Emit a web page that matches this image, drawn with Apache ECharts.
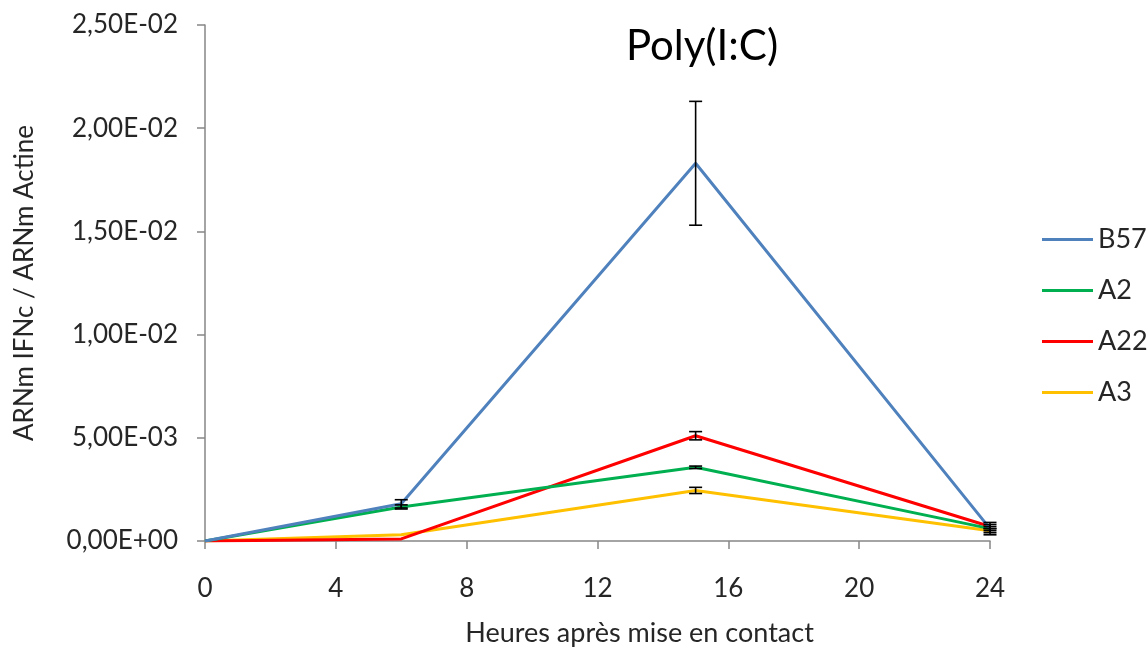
<!DOCTYPE html>
<html>
<head>
<meta charset="utf-8">
<script src="https://cdn.jsdelivr.net/npm/echarts@6/dist/echarts.min.js"></script>
<style>
  html, body { margin: 0; padding: 0; background: #ffffff; }
  #chart { width: 1147px; height: 652px; }
</style>
</head>
<body>
<div id="chart"></div>
<script>
// Hours after contact (x values)
const hours = [0, 6, 15, 24];

// Mean IFN mRNA / actin mRNA ratio per strain
const seriesNames = ['B57', 'A2', 'A22', 'A3'];
const valuesB57 = [0, 0.0018, 0.0183, 0.0006];
const valuesA2  = [0, 0.00165, 0.00357, 0.0006];
const valuesA22 = [0, 0.0001, 0.0051, 0.0007];
const valuesA3  = [0, 0.0003, 0.00245, 0.0005];

// Standard deviations (error bar half-heights)
const errB57 = [0, 0.0002, 0.003, 0.0003];
const errA2  = [0, 0.0001, 0.00006, 0.0001];
const errA22 = [0, 0, 0.0002, 0.0001];
const errA3  = [0, 0, 0.00015, 0.0001];

const colors = ['#4f81bd', '#00b050', '#ff0000', '#ffc000'];

// Axis tick labels
const xTicks = [0, 4, 8, 12, 16, 20, 24];
const yTickLabels = ['0,00E+00', '5,00E-03', '1,00E-02', '1,50E-02', '2,00E-02', '2,50E-02'];

const allValues = [valuesB57, valuesA2, valuesA22, valuesA3];
const allErrors = [errB57, errA2, errA22, errA3];

const FONT = 'Lato';
const TEXT = '#262626';

const lineSeries = seriesNames.map((name, s) => ({
  name: name,
  type: 'line',
  data: hours.map((h, i) => [h, allValues[s][i]]),
  showSymbol: false,
  symbol: 'none',
  lineStyle: { color: colors[s], width: 3 },
  itemStyle: { color: colors[s] },
  z: 3 + (seriesNames.length - s)
}));

// Error bars: vertical whisker with flat caps
const errorData = [];
allValues.forEach((vals, s) => {
  vals.forEach((v, i) => {
    const e = allErrors[s][i];
    if (e > 0) errorData.push([hours[i], v - e, v + e]);
  });
});

const errorSeries = {
  name: 'errors',
  type: 'custom',
  z: 10,
  silent: true,
  data: errorData,
  renderItem: function (params, api) {
    const x = api.value(0);
    const lo = api.coord([x, api.value(1)]);
    const hi = api.coord([x, api.value(2)]);
    const half = 6.5;
    const style = { stroke: '#000000', lineWidth: 1.6 };
    return {
      type: 'group',
      children: [
        { type: 'line', shape: { x1: lo[0], y1: lo[1], x2: hi[0], y2: hi[1] }, style: style },
        { type: 'line', shape: { x1: lo[0] - half, y1: lo[1], x2: lo[0] + half, y2: lo[1] }, style: style },
        { type: 'line', shape: { x1: hi[0] - half, y1: hi[1], x2: hi[0] + half, y2: hi[1] }, style: style }
      ]
    };
  }
};

const chart = echarts.init(document.getElementById('chart'), null, { renderer: 'canvas' });

chart.setOption({
  backgroundColor: '#ffffff',
  animation: false,
  title: {
    text: 'Poly(I:C)',
    left: 697,
    textAlign: 'center',
    top: 20,
    textStyle: { fontFamily: FONT, fontSize: 42, fontWeight: 'normal', color: '#000000' }
  },
  legend: {
    data: seriesNames,
    orient: 'vertical',
    left: 1042,
    top: 226,
    padding: 0,
    itemGap: 24,
    itemWidth: 51,
    itemHeight: 3,
    icon: 'rect',
    textStyle: { fontFamily: FONT, fontSize: 27, color: TEXT }
  },
  grid: { left: 205, right: 157, top: 25, bottom: 107, containLabel: false },
  xAxis: {
    type: 'value',
    min: 0,
    max: 24,
    interval: 4,
    name: 'Heures après mise en contact',
    nameLocation: 'middle',
    nameGap: 79,
    nameTextStyle: { fontFamily: FONT, fontSize: 27, color: TEXT, padding: [0, 0, 0, 84] },
    axisLine: { show: true, onZero: false, lineStyle: { color: '#868686', width: 1.5 } },
    axisTick: { show: true, length: 8, lineStyle: { color: '#868686', width: 1.5 } },
    axisLabel: {
      margin: 35,
      fontFamily: FONT, fontSize: 26, color: TEXT,
      formatter: function (v) { return xTicks.indexOf(v) >= 0 ? String(v) : ''; }
    },
    splitLine: { show: false }
  },
  yAxis: {
    type: 'value',
    min: 0,
    max: 0.025,
    interval: 0.005,
    name: 'ARNm IFNc / ARNm Actine',
    nameLocation: 'middle',
    nameGap: 167,
    nameTextStyle: { fontFamily: FONT, fontSize: 26, color: TEXT },
    axisLine: { show: true, lineStyle: { color: '#868686', width: 1.5 } },
    axisTick: { show: true, length: 8, lineStyle: { color: '#868686', width: 1.5 } },
    axisLabel: {
      margin: 27,
      fontFamily: FONT, fontSize: 26, color: TEXT,
      formatter: function (v, i) { return yTickLabels[i]; }
    },
    splitLine: { show: false }
  },
  series: lineSeries.concat([errorSeries])
});
</script>
</body>
</html>
